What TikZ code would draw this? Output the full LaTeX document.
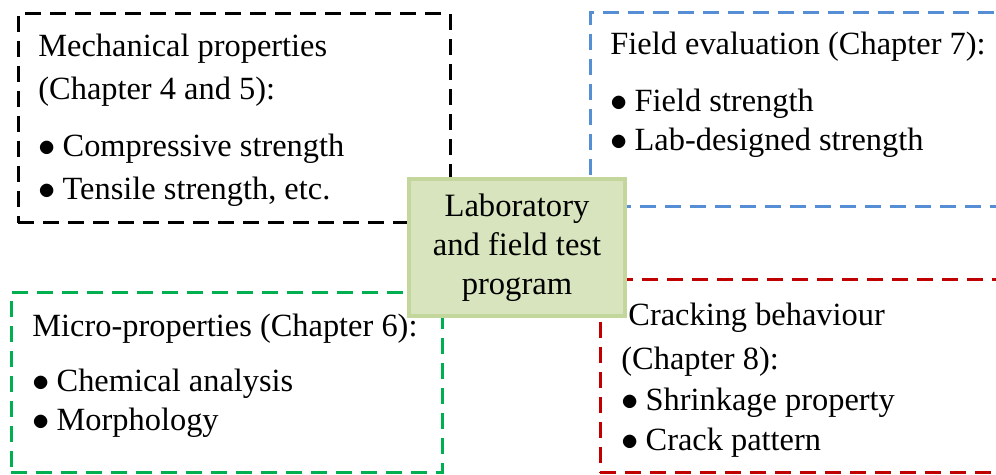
\documentclass[tikz,border=0pt]{standalone}
\usepackage{fontspec}
\setmainfont{Liberation Serif}
\usepackage{tikz}
\usetikzlibrary{fit}
\definecolor{mechc}{HTML}{000000}
\definecolor{fieldc}{HTML}{558ED5}
\definecolor{microc}{HTML}{00B050}
\definecolor{crackc}{HTML}{C00000}
\definecolor{hubfill}{HTML}{D7E4BD}
\definecolor{hubline}{HTML}{C3D69B}
\newcommand{\itm}{$\bullet$\hspace{3.5pt}}
\tikzset{dbox/.style={draw,line width=1.5pt,dash pattern=on 8pt off 4.5pt,inner sep=0pt},
  hub/.style={draw=hubline,fill=hubfill,line width=2pt,inner sep=0pt,align=center,
    minimum width=108pt,minimum height=68.5pt,font=\fontsize{16.3}{19.5}\selectfont},
  txt/.style={anchor=base west,inner sep=0pt,align=left,font=\fontsize{16.2}{#1}\selectfont},
  txt/.default=21.5pt}

\begin{document}
\begin{tikzpicture}[x=0.5pt,y=-0.5pt]
\clip (0,0) rectangle (996,475);
% dashed topic boxes
\node[dbox,draw=mechc,fit={(18,14) (450,223)}] (mech) {};
\node[dbox,draw=fieldc,fit={(590,13) (1020,207)}] (field) {};
\node[dbox,draw=microc,fit={(11,293) (442,473)}] (micro) {};
\node[dbox,draw=crackc,fit={(600,280) (1020,473)}] (crack) {};
% centre box
\node[hub] (lab) at (517,247.5) {Laboratory\\and field test\\program};
% box texts, placed at the baseline of their last line
\node[txt=21.5pt] (mecht) at (38,200) {Mechanical properties\\(Chapter 4 and 5):\\[7pt]
  \itm Compressive strength\\\itm Tensile strength, etc.};
\node[txt=19.5pt] (fieldt) at (610,151) {Field evaluation (Chapter 7):\\[9pt]
  \itm Field strength\\\itm Lab-designed strength};
\node[txt=19.5pt] (microt) at (32,430) {Micro-properties (Chapter 6):\\[8pt]
  \itm Chemical analysis\\\itm Morphology};
\node[txt] (crackt1) at (628,326) {Cracking behaviour};
\node[txt=20.25pt] (crackt) at (621,451) {(Chapter 8):\\
  \itm Shrinkage property\\\itm Crack pattern};
\end{tikzpicture}
\end{document}
